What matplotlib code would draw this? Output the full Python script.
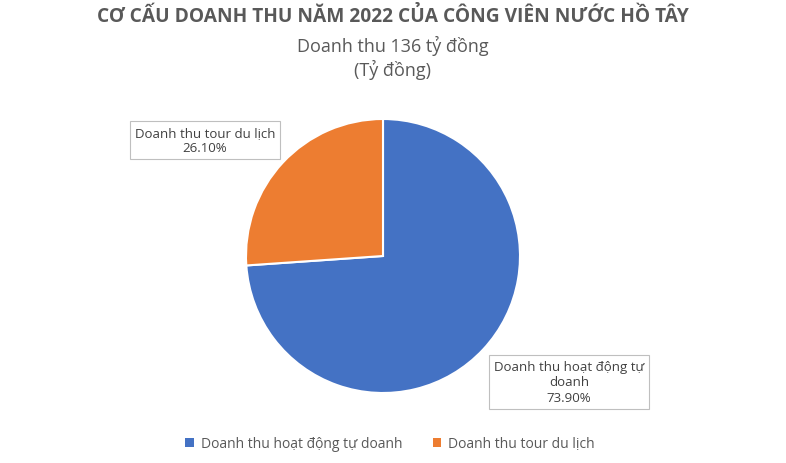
import matplotlib
matplotlib.use("Agg")
import matplotlib.pyplot as plt
from matplotlib.patches import Patch

categories = ["Doanh thu hoạt động tự doanh", "Doanh thu tour du lịch"]
values = [73.9, 26.1]
label_texts = ["Doanh thu hoạt động tự\ndoanh\n73.90%", "Doanh thu tour du lịch\n26.10%"]
colors = ["#4472C4", "#ED7D31"]
title = "CƠ CẤU DOANH THU NĂM 2022 CỦA CÔNG VIÊN NƯỚC HỒ TÂY"
subtitle = "Doanh thu 136 tỷ đồng\n(Tỷ đồng)"

plt.rcParams['font.family'] = ['Open Sans', 'DejaVu Sans']
W, H = 786, 464
fig = plt.figure(figsize=(W / 100, H / 100), dpi=100)
fig.patch.set_facecolor("white")

cx, cy, r = 383, 257, 137
ax = fig.add_axes([(cx - r) / W, (H - cy - r) / H, 2 * r / W, 2 * r / H])
wedges, _ = ax.pie(values, colors=colors, startangle=90, counterclock=False,
                   radius=1.0, wedgeprops=dict(edgecolor="white", linewidth=1.5))
ax.set_xlim(-1, 1)
ax.set_ylim(-1, 1)
ax.set_aspect("equal")
ax.axis("off")

def px2data(px, py):
    return (px - cx) / r, (cy - py) / r

box = dict(boxstyle="square,pad=0.35", fc="white", ec="#bfbfbf", lw=0.8)
bx, by = px2data(569, 383)
ax.text(bx, by, label_texts[0], ha="center", va="center", fontsize=9.5,
        color="#404040", bbox=box, clip_on=False, linespacing=1.25)
ox, oy = px2data(205, 141)
ax.text(ox, oy, label_texts[1], ha="center", va="center", fontsize=9.5,
        color="#404040", bbox=box, clip_on=False, linespacing=1.25)

fig.text(0.5, 1 - 17 / H, title, ha="center", va="center", fontsize=13.8,
         fontweight="bold", color="#595959")
fig.text(0.5, 1 - 58 / H, subtitle, ha="center", va="center", fontsize=13,
         color="#595959", linespacing=1.3)

handles = [Patch(facecolor=c, edgecolor="none") for c in colors]
fig.legend(handles, categories, loc="center", bbox_to_anchor=(390 / W, 1 - 445 / H),
           ncol=2, frameon=False, fontsize=10, handlelength=0.6, handleheight=0.6,
           columnspacing=2.2, handletextpad=0.5, labelcolor="#595959")

fig.savefig("out.png", dpi=100, facecolor="white")
